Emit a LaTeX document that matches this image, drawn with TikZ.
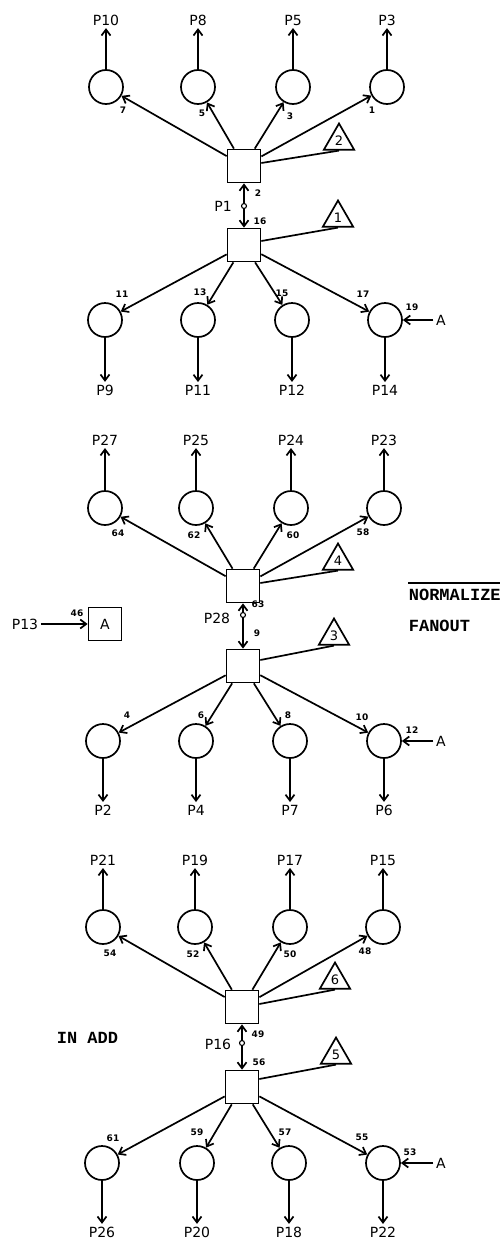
\documentclass[tikz,border=0pt]{standalone}
\usepackage{fontspec}
\setmainfont{DejaVu Sans}
\newfontfamily\typewr{Liberation Mono}
\usetikzlibrary{arrows.meta,shapes.geometric}

\begin{document}
\begin{tikzpicture}[x=1pt, y=-1pt, line width=1.7pt,
    >={Straight Barb[length=6pt,width=9pt]},
    blk/.style={draw, minimum size=33pt, inner sep=0pt, font=\fontsize{14}{14}\selectfont},
    gate/.style={draw, circle, minimum size=34pt, inner sep=0pt},
    tri/.style={draw, regular polygon, regular polygon sides=3, minimum size=35pt, inner sep=0pt, font=\fontsize{13}{13}\selectfont},
    dot/.style={draw, circle, minimum size=5pt, inner sep=0pt, line width=1.1pt},
    pin/.style={font=\fontsize{14}{14}\selectfont, inner sep=2pt},
    num/.style={font=\bfseries\fontsize{9}{9}\selectfont, inner sep=0pt},
    note/.style={font=\typewr\bfseries\fontsize{17}{17}\selectfont, inner sep=0pt, anchor=west}]
    \useasboundingbox (0,0) rectangle (503,1242);

    % ---------- first pair ----------
    \node[blk] (sqTop1) at (244,166) {};
    \node[blk] (sqBot1) at (244,245) {};
    \node[tri] (t2) at (339,141) {2};
    \node[tri] (t1) at (338,218) {1};
    \draw ([yshift=3pt]sqTop1.east) -- (t2.south);
    \draw ([yshift=4pt]sqBot1.east) -- (t1.south);

    % outputs up
    \node[gate] (gP10) at (106,87) {};
    \node[gate] (gP8) at (198,87) {};
    \node[gate] (gP5) at (293,87) {};
    \node[gate] (gP3) at (387,87) {};
    \node[pin] (lP10) at (106,20) {P10};
    \node[pin] (lP8) at (198,20) {P8};
    \node[pin] (lP5) at (293,20) {P5};
    \node[pin] (lP3) at (387,20) {P3};
    \draw[->] (gP10) -- (lP10);
    \draw[->] (gP8) -- (lP8);
    \draw[->] (gP5) -- (lP5);
    \draw[->] (gP3) -- (lP3);
    \draw[->] (sqTop1) -- (gP10);
    \draw[->] (sqTop1) -- (gP8);
    \draw[->] (sqTop1) -- (gP5);
    \draw[->] (sqTop1) -- (gP3);
    \node[num] (n7) at (123,110) {7};
    \node[num] (n5) at (202,113) {5};
    \node[num] (n3) at (290,116) {3};
    \node[num] (n1) at (372,110) {1};

    % link P1
    \node[dot] (d1) at (244,206) {};
    \draw[->] (d1) -- (sqTop1);
    \draw[->] (d1) -- (sqBot1);
    \node[pin] (lP1) at (223,206) {P1};
    \node[num] (n2) at (258,193) {2};
    \node[num] (n16) at (260,221) {16};

    % outputs down
    \node[gate] (gP9) at (105,320) {};
    \node[gate] (gP11) at (198,320) {};
    \node[gate] (gP12) at (292,320) {};
    \node[gate] (gP14) at (385,320) {};
    \node[pin] (lP9) at (105,390) {P9};
    \node[pin] (lP11) at (198,390) {P11};
    \node[pin] (lP12) at (292,390) {P12};
    \node[pin] (lP14) at (385,390) {P14};
    \draw[->] (sqBot1) -- (gP9);
    \draw[->] (sqBot1) -- (gP11);
    \draw[->] (sqBot1) -- (gP12);
    \draw[->] (sqBot1) -- (gP14);
    \draw[->] (gP9) -- (lP9);
    \draw[->] (gP11) -- (lP11);
    \draw[->] (gP12) -- (lP12);
    \draw[->] (gP14) -- (lP14);
    \node[num] (n11) at (122,294) {11};
    \node[num] (n13) at (200,292) {13};
    \node[num] (n15) at (282,293) {15};
    \node[num] (n17) at (363,294) {17};
    \node[num] (n19) at (412,307) {19};
    \node[pin] (a19) at (441,320) {A};
    \draw[->] (a19) -- (gP14);

    % ---------- second pair ----------
    \node[blk] (sqTop2) at (243,586) {};
    \node[blk] (sqBot2) at (243,666) {};
    \node[tri] (t4) at (338,561) {4};
    \node[tri] (t3) at (334,636) {3};
    \draw ([yshift=3pt]sqTop2.east) -- (t4.south);
    \draw ([yshift=6pt]sqBot2.east) -- (t3.south);

    % outputs up
    \node[gate] (gP27) at (105,508) {};
    \node[gate] (gP25) at (196,508) {};
    \node[gate] (gP24) at (291,508) {};
    \node[gate] (gP23) at (384,508) {};
    \node[pin] (lP27) at (105,440) {P27};
    \node[pin] (lP25) at (196,440) {P25};
    \node[pin] (lP24) at (291,440) {P24};
    \node[pin] (lP23) at (384,440) {P23};
    \draw[->] (gP27) -- (lP27);
    \draw[->] (gP25) -- (lP25);
    \draw[->] (gP24) -- (lP24);
    \draw[->] (gP23) -- (lP23);
    \draw[->] (sqTop2) -- (gP27);
    \draw[->] (sqTop2) -- (gP25);
    \draw[->] (sqTop2) -- (gP24);
    \draw[->] (sqTop2) -- (gP23);
    \node[num] (n64) at (118,533) {64};
    \node[num] (n62) at (194,535) {62};
    \node[num] (n60) at (293,535) {60};
    \node[num] (n58) at (363,532) {58};

    % link P28
    \node[dot] (d2) at (243,615) {};
    \draw[->] (d2) -- (sqTop2);
    \draw[->] (d2) -- (sqBot2);
    \node[pin] (lP28) at (217,618) {P28};
    \node[num] (n63) at (258,604) {63};
    \node[num] (n9) at (257,633) {9};

    % outputs down
    \node[gate] (gP2) at (103,741) {};
    \node[gate] (gP4) at (196,741) {};
    \node[gate] (gP7) at (290,741) {};
    \node[gate] (gP6) at (384,741) {};
    \node[pin] (lP2) at (103,810) {P2};
    \node[pin] (lP4) at (196,810) {P4};
    \node[pin] (lP7) at (290,810) {P7};
    \node[pin] (lP6) at (384,810) {P6};
    \draw[->] (sqBot2) -- (gP2);
    \draw[->] (sqBot2) -- (gP4);
    \draw[->] (sqBot2) -- (gP7);
    \draw[->] (sqBot2) -- (gP6);
    \draw[->] (gP2) -- (lP2);
    \draw[->] (gP4) -- (lP4);
    \draw[->] (gP7) -- (lP7);
    \draw[->] (gP6) -- (lP6);
    \node[num] (n4) at (127,715) {4};
    \node[num] (n6) at (201,715) {6};
    \node[num] (n8) at (288,715) {8};
    \node[num] (n10) at (362,717) {10};
    \node[num] (n12) at (412,730) {12};
    \node[pin] (a12) at (441,741) {A};
    \draw[->] (a12) -- (gP6);

    % input A
    \node[blk] (sqA) at (105,624) {A};
    \node[pin] (lP13) at (25,624) {P13};
    \draw[->] (lP13) -- (sqA);
    \node[num] (n46) at (77,613) {46};

    % side notes
    \node[note] (nrm) at (408,595) {NORMALIZE};
    \draw (408,583) -- (500,583);
    \node[note] (fan) at (408,626) {FANOUT};

    % ---------- third pair ----------
    \node[blk] (sqTop3) at (242,1007) {};
    \node[blk] (sqBot3) at (242,1087) {};
    \node[tri] (t6) at (335,980) {6};
    \node[tri] (t5) at (336,1055) {5};
    \draw ([yshift=3pt]sqTop3.east) -- (t6.south);
    \draw ([yshift=8pt]sqBot3.east) -- (t5.south);

    % outputs up
    \node[gate] (gP21) at (103,927) {};
    \node[gate] (gP19) at (195,927) {};
    \node[gate] (gP17) at (290,927) {};
    \node[gate] (gP15) at (383,927) {};
    \node[pin] (lP21) at (103,860) {P21};
    \node[pin] (lP19) at (195,860) {P19};
    \node[pin] (lP17) at (290,860) {P17};
    \node[pin] (lP15) at (383,860) {P15};
    \draw[->] (gP21) -- (lP21);
    \draw[->] (gP19) -- (lP19);
    \draw[->] (gP17) -- (lP17);
    \draw[->] (gP15) -- (lP15);
    \draw[->] (sqTop3) -- (gP21);
    \draw[->] (sqTop3) -- (gP19);
    \draw[->] (sqTop3) -- (gP17);
    \draw[->] (sqTop3) -- (gP15);
    \node[num] (n54) at (110,953) {54};
    \node[num] (n52) at (193,954) {52};
    \node[num] (n50) at (290,954) {50};
    \node[num] (n48) at (365,951) {48};

    % link P16
    \node[dot] (d3) at (242,1043) {};
    \draw[->] (d3) -- (sqTop3);
    \draw[->] (d3) -- (sqBot3);
    \node[pin] (lP16) at (218,1044) {P16};
    \node[num] (n49) at (258,1034) {49};
    \node[num] (n56) at (259,1062) {56};

    % outputs down
    \node[gate] (gP26) at (102,1163) {};
    \node[gate] (gP20) at (197,1163) {};
    \node[gate] (gP18) at (289,1163) {};
    \node[gate] (gP22) at (383,1163) {};
    \node[pin] (lP26) at (102,1232) {P26};
    \node[pin] (lP20) at (197,1232) {P20};
    \node[pin] (lP18) at (289,1232) {P18};
    \node[pin] (lP22) at (383,1232) {P22};
    \draw[->] (sqBot3) -- (gP26);
    \draw[->] (sqBot3) -- (gP20);
    \draw[->] (sqBot3) -- (gP18);
    \draw[->] (sqBot3) -- (gP22);
    \draw[->] (gP26) -- (lP26);
    \draw[->] (gP20) -- (lP20);
    \draw[->] (gP18) -- (lP18);
    \draw[->] (gP22) -- (lP22);
    \node[num] (n61) at (113,1138) {61};
    \node[num] (n59) at (197,1132) {59};
    \node[num] (n57) at (285,1132) {57};
    \node[num] (n55) at (362,1137) {55};
    \node[num] (n53) at (410,1152) {53};
    \node[pin] (a53) at (441,1163) {A};
    \draw[->] (a53) -- (gP22);

    \node[note] (inadd) at (56,1038) {IN ADD};
\end{tikzpicture}
\end{document}
